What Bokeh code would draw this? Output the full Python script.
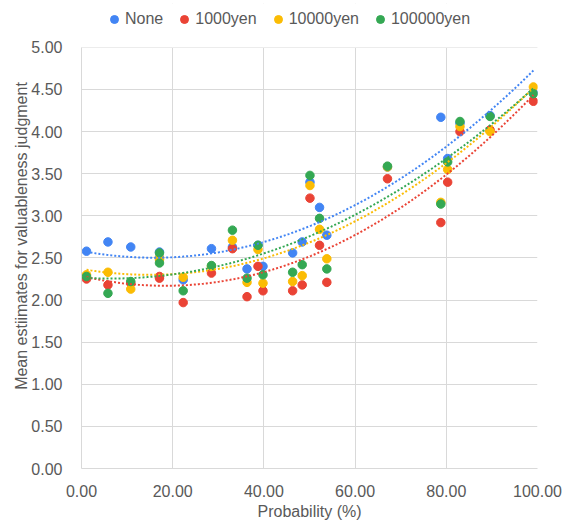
import numpy as np
from bokeh.plotting import figure
from bokeh.models import (Range1d, NumeralTickFormatter, Legend, LegendItem,
                          FixedTicker, BoxAnnotation)
from bokeh.embed import file_html
from bokeh.resources import INLINE

prob = [1.1, 5.8, 10.8, 17.1, 17.1, 22.3, 28.5, 33.1, 36.3, 38.7, 39.8,
        46.3, 48.4, 50.1, 52.2, 53.8, 67.1, 78.8, 80.3, 83.0, 89.6, 99.1]
none_vals = [2.58, 2.69, 2.63, 2.57, 2.50, 2.24, 2.61, 2.63, 2.37, 2.65, 2.40,
             2.56, 2.69, 3.40, 3.10, 2.77, 3.58, 4.17, 3.68, 4.10, 4.19, 4.46]
yen1000 = [2.25, 2.18, 2.20, 2.28, 2.26, 1.97, 2.32, 2.61, 2.04, 2.40, 2.11,
           2.11, 2.18, 3.21, 2.65, 2.21, 3.44, 2.92, 3.40, 4.00, 4.02, 4.36]
yen10000 = [2.30, 2.33, 2.13, 2.50, 2.48, 2.27, 2.40, 2.71, 2.21, 2.60, 2.20,
            2.22, 2.29, 3.36, 2.84, 2.49, 3.58, 3.16, 3.55, 4.06, 4.00, 4.53]
yen100000 = [2.28, 2.08, 2.22, 2.56, 2.44, 2.11, 2.41, 2.83, 2.26, 2.65, 2.30,
             2.33, 2.42, 3.48, 2.97, 2.37, 3.59, 3.14, 3.64, 4.12, 4.18, 4.45]

series_names = ["None", "1000yen", "10000yen", "100000yen"]
series_vals = [none_vals, yen1000, yen10000, yen100000]
colors = ["#4285F4", "#EA4335", "#FBBC04", "#34A853"]

x_ticks = [0, 20, 40, 60, 80, 100]
y_ticks = [0, 0.5, 1, 1.5, 2, 2.5, 3, 3.5, 4, 4.5, 5]
Y_MAX = 5

FONT = "Liberation Sans"
TXT = "#595959"
GRID = "#d9d9d9"

# frame extends above the 5.00 line to host the legend (plot area 47..469 px)
p = figure(width=568, height=522, output_backend="svg", toolbar_location=None,
           x_range=Range1d(0, 100), y_range=Range1d(0, 5.521),
           min_border_left=81, min_border_right=31, min_border_top=3, min_border_bottom=53)
p.outline_line_color = None
p.border_fill_alpha = 0

p.xaxis.ticker = FixedTicker(ticks=x_ticks)
p.yaxis.ticker = FixedTicker(ticks=y_ticks)
p.xgrid.ticker = FixedTicker(ticks=x_ticks)
p.ygrid.ticker = FixedTicker(ticks=y_ticks)
p.yaxis.bounds = (0, Y_MAX)
for ax in (p.xaxis, p.yaxis):
    ax.formatter = NumeralTickFormatter(format="0.00")
    ax.axis_line_color = GRID
    ax.major_tick_line_color = None
    ax.minor_tick_line_color = None
    ax.major_label_text_font = FONT
    ax.major_label_text_font_size = "16px"
    ax.major_label_text_color = TXT
    ax.axis_label_text_font = FONT
    ax.axis_label_text_font_size = "16px"
    ax.axis_label_text_font_style = "normal"
    ax.axis_label_text_color = TXT
p.xaxis.axis_label = "Probability (%)"
p.yaxis.axis_label = "Mean estiimates for valuableness judgment"
p.xaxis.major_label_standoff = 10
p.yaxis.major_label_standoff = 13
p.xaxis.axis_label_standoff = 3
p.yaxis.axis_label_standoff = -2
p.xgrid.grid_line_color = GRID
p.ygrid.grid_line_color = GRID

# hide vertical grid lines above the 5.00 line
p.add_layout(BoxAnnotation(bottom=Y_MAX, fill_color="white", fill_alpha=1,
                           line_color=None, level="underlay"))

items = []
xs = np.array(prob)
for name, vals, c in zip(series_names, series_vals, colors):
    r = p.scatter(prob, vals, size=8.5, fill_color=c, line_color=c)
    items.append(LegendItem(label=name, renderers=[r]))

for name, vals, c in zip(series_names, series_vals, colors):
    coef = np.polyfit(xs, np.array(vals), 2)
    xx = np.linspace(xs.min(), xs.max(), 200)
    yy = np.polyval(coef, xx)
    p.line(xx, yy, line_color=c, line_width=2, line_dash="2 2")

legend = Legend(items=items, orientation="horizontal", location=(23, 439),
                glyph_width=20, glyph_height=20, label_height=20,
                label_standoff=1, spacing=11, padding=0, margin=0,
                label_text_font=FONT, label_text_font_size="16px",
                label_text_color=TXT, background_fill_alpha=0,
                border_line_alpha=0)
p.add_layout(legend, "center")

open("out.html", "w").write(file_html(p, INLINE))
